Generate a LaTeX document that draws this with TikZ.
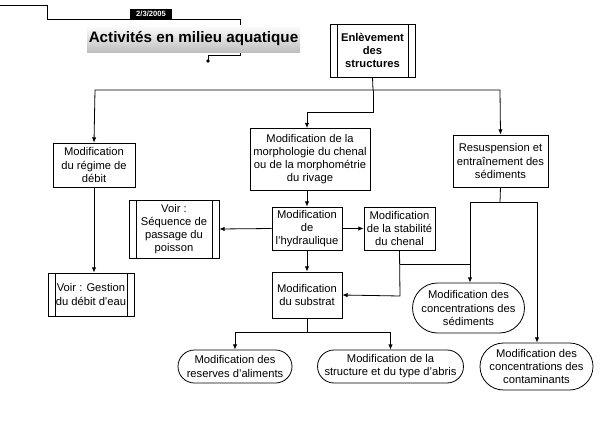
\documentclass[tikz,border=0pt]{standalone}
\usepackage{fontspec}
\setmainfont{Liberation Sans}
\usetikzlibrary{positioning,arrows.meta,shapes.misc}

\begin{document}
\begin{tikzpicture}[
    x=0.5pt, y=-0.5pt,
    font=\fontsize{5.6}{6.6}\selectfont,
    box/.style={rectangle, draw, fill=white, align=center, inner sep=1pt},
    ovalbox/.style={rounded rectangle, draw, fill=white, align=center, inner sep=1pt},
    barbox/.style={box, path picture={
        \draw ([xshift=3.5pt]path picture bounding box.north west) -- ([xshift=3.5pt]path picture bounding box.south west);
        \draw ([xshift=-3.5pt]path picture bounding box.north east) -- ([xshift=-3.5pt]path picture bounding box.south east);}},
    arrow/.style={-{Latex[length=2.6pt,width=2.2pt]}, thin},
    link/.style={thin}
]
    \useasboundingbox (0,0) rectangle (600,423);

    % Title block
    \draw[link] (0,5) -- (47,5) -- (47,19) -- (240,19) -- (240,55) -- (208,55) -- (208,61);
    \fill (208,61) circle (0.9pt);
    \node[fill=black, text=white, font=\fontsize{3.8}{4}\selectfont\bfseries,
          minimum width=21pt, minimum height=5pt, inner sep=0pt] (date) at (151,14) {2/3/2005};
    \node[top color=white, bottom color=black!25, font=\fontsize{7.6}{8}\selectfont\bfseries,
          minimum width=106.5pt, minimum height=13.5pt, inner sep=0pt] (title) at (193.5,38.5) {Activités en milieu aquatique};

    % Boxes
    \node[barbox, font=\fontsize{5.6}{6.6}\selectfont\bfseries, minimum width=42.5pt, minimum height=26.5pt] (enlev) at (372.5,50.5) {Enlèvement\\des\\structures};
    \node[box, minimum width=41pt, minimum height=22pt] (regime) at (94,165) {Modification\\du régime de\\débit};
    \node[box, minimum width=60pt, minimum height=31pt] (morph) at (310,159) {Modification de la\\morphologie du chenal\\ou de la morphométrie\\du rivage};
    \node[box, minimum width=47.5pt, minimum height=26pt] (resusp) at (500.5,161) {Resuspension et\\entraînement des\\sédiments};
    \node[barbox, minimum width=45pt, minimum height=29pt] (seq) at (174,229) {Voir :\\Séquence de\\passage du\\poisson};
    \node[box, minimum width=35pt, minimum height=21.5pt] (hydr) at (307,228.5) {Modification\\de\\l'hydraulique};
    \node[box, minimum width=35.5pt, minimum height=21.5pt] (stab) at (399.5,228.5) {Modification\\de la stabilité\\du chenal};
    \node[barbox, minimum width=43pt, minimum height=21.5pt] (gestion) at (91,294.5) {Voir : Gestion\\du débit d'eau};
    \node[box, minimum width=35pt, minimum height=23pt] (substrat) at (307,295) {Modification\\du substrat};
    \node[ovalbox, minimum width=53.5pt, minimum height=25pt] (sed) at (468.5,308) {Modification des\\concentrations des\\sédiments};
    \node[ovalbox, minimum width=59pt, minimum height=16.5pt] (alim) at (235,366.5) {Modification des\\reserves d'aliments};
    \node[ovalbox, minimum width=67.5pt, minimum height=16.5pt] (abris) at (390.5,366.5) {Modification de la\\structure et du type d'abris};
    \node[ovalbox, minimum width=58.5pt, minimum height=23.5pt] (contam) at (536.5,366.5) {Modification des\\concentrations des\\contaminants};

    % Junctions
    \coordinate (top) at (373,90);
    \coordinate (stabj) at (400,264);
    \coordinate (resj) at (500,202);
    \coordinate (subj) at (307,332);

    % Connectors
    \draw[link] (enlev.south) -- (top);
    \draw[arrow] (top) -- (95,90) -- (regime.north);
    \draw[arrow] (top) -- (500,90) -- (resusp.north);
    \draw[arrow] (top) -- (373,112) -- (307,112) -- (307,128);
    \draw[arrow] (regime.south) -- (gestion.north -| regime.south);
    \draw[arrow] (morph.south -| hydr.north) -- (hydr.north);
    \draw[arrow] (hydr.west) -- (seq.east);
    \draw[arrow] (hydr.east) -- (stab.west);
    \draw[arrow] (hydr.south) -- (substrat.north);
    \draw[arrow] (stab.south) -- (400,296) -- (substrat.east);
    \draw[link] (stabj) -- (470,264);
    \draw[link] (resusp.south) -- (resj);
    \draw[arrow] (resj) -- (470,202) -- (sed.north -| 470,0);
    \draw[arrow] (resj) -- (537,202) -- (contam.north -| 537,0);
    \draw[link] (substrat.south) -- (subj);
    \draw[arrow] (subj) -- (235,332) -- (alim.north);
    \draw[arrow] (subj) -- (390.5,332) -- (abris.north);
\end{tikzpicture}
\end{document}
